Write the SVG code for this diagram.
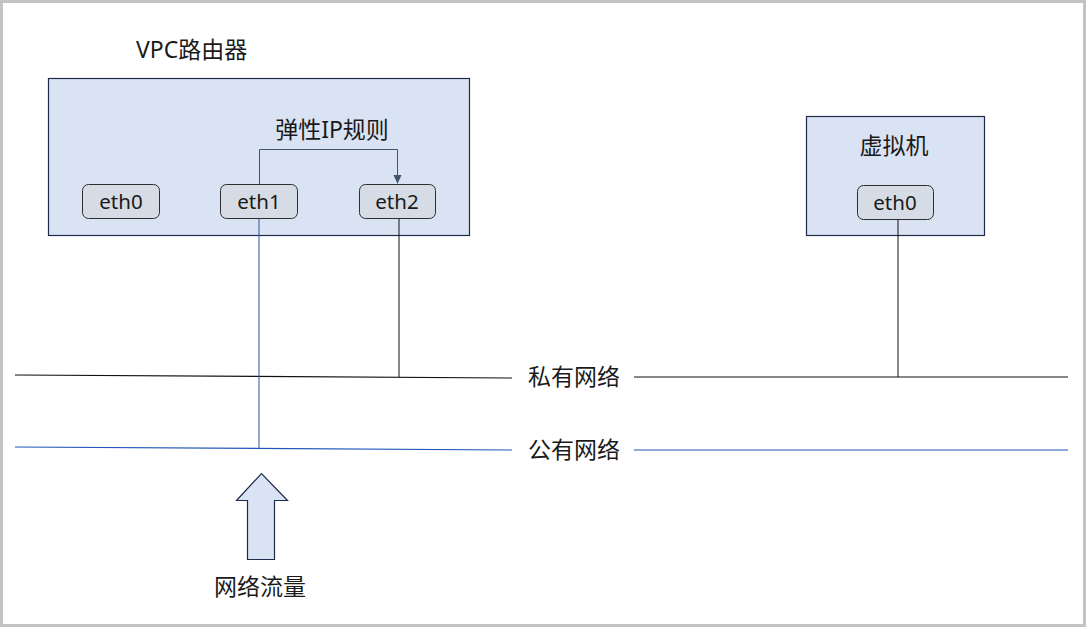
<svg xmlns="http://www.w3.org/2000/svg" width="1086" height="627" viewBox="0 0 1086 627">
<style>
.t{font-family:"Noto Sans","Noto Sans CJK SC",sans-serif;fill:#1a1a1a}
.big{font-size:23px}
.eth{font-size:20.5px;text-anchor:middle}
.box{fill:#dae3f3;stroke:#1f2b4a;stroke-width:1.2}
.port{fill:#d6dce5;stroke:#2e2e2e;stroke-width:1}
</style>
<rect x="1.5" y="1.5" width="1083" height="624" fill="#fff" stroke="#c3c3c3" stroke-width="3"/>
<g id="vpc-router">
<rect class="box" x="48.5" y="78.5" width="421" height="157"/>
<text class="t big" x="136" y="58">VPC路由器</text>
<text class="t big" x="332" y="138" text-anchor="middle">弹性IP规则</text>
</g>
<g id="r-eth0">
<rect class="port" x="82.5" y="184.5" width="77" height="34" rx="6"/>
<text class="t eth" x="121" y="209">eth0</text>
</g>
<g id="r-eth1">
<rect class="port" x="220.5" y="184.5" width="77" height="34" rx="6"/>
<text class="t eth" x="259" y="209">eth1</text>
</g>
<g id="r-eth2">
<rect class="port" x="359.5" y="184.5" width="76" height="34" rx="6"/>
<text class="t eth" x="397" y="209">eth2</text>
</g>
<g id="vm">
<rect class="box" x="806.5" y="116.5" width="178" height="119"/>
<text class="t big" x="894" y="154" text-anchor="middle">虚拟机</text>
</g>
<g id="vm-eth0">
<rect class="port" x="857.5" y="185.5" width="76" height="34" rx="6"/>
<text class="t eth" x="895" y="210">eth0</text>
</g>
<g id="private-net">
<text class="t big" x="574" y="385" text-anchor="middle">私有网络</text>
</g>
<g id="public-net">
<text class="t big" x="574" y="458" text-anchor="middle">公有网络</text>
</g>
<g id="traffic">
<path class="box" d="M247.5,559.5 V500.5 H236.5 L261.5,473.5 L287.5,500.5 H274.5 V559.5 Z"/>
<text class="t big" x="260" y="595" text-anchor="middle">网络流量</text>
</g>
<g id="connectors" fill="none">
<line x1="15" y1="375" x2="512" y2="378" stroke="#111" stroke-width="1.2"/>
<line x1="634" y1="377" x2="1068" y2="377" stroke="#111" stroke-width="1.2"/>
<line x1="15" y1="447" x2="512" y2="450" stroke="#2057b8" stroke-width="1.2"/>
<line x1="634" y1="450" x2="1068" y2="450" stroke="#2057b8" stroke-width="1.2"/>
<line x1="259" y1="218.5" x2="259" y2="449" stroke="#2f4f9f" stroke-width="1"/>
<line x1="399" y1="218.5" x2="399" y2="377" stroke="#111" stroke-width="1"/>
<line x1="898" y1="219.5" x2="898" y2="377" stroke="#111" stroke-width="1"/>
<path d="M259.5,184 V149.5 H397.5 V176" stroke="#44546a" stroke-width="1"/>
<path d="M393.5,175 L401.5,175 L397.5,184 Z" fill="#44546a"/>
</g>
</svg>
